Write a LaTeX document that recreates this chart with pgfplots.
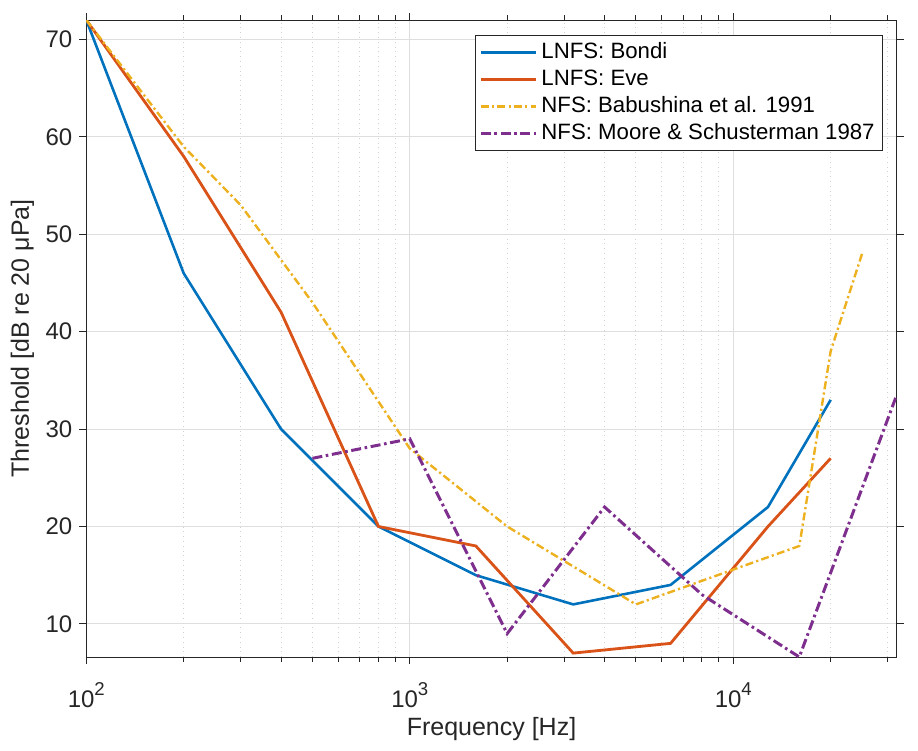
\documentclass[border=0pt]{standalone}
\usepackage{fontspec}
\setmainfont{Liberation Sans}
\usepackage{pgfplots}
\pgfplotsset{compat=1.18}
\definecolor{mblue}{rgb}{0,0.447,0.741}
\definecolor{morange}{rgb}{0.851,0.325,0.098}
\definecolor{myellow}{rgb}{0.929,0.694,0.125}
\definecolor{mpurple}{rgb}{0.494,0.184,0.556}
\definecolor{axgray}{rgb}{0.15,0.15,0.15}
\newcommand{\tsup}[1]{\raisebox{6pt}{\fontsize{9.3}{9}\selectfont #1}}
\begin{document}
\begin{tikzpicture}
\useasboundingbox (-43.15pt,-47pt) rectangle (415.85pt,328.5pt);
\begin{axis}[
  scale only axis, width=405.2pt, height=318.5pt,
  xmode=log, log basis x=10,
  xmin=100, xmax=32000, ymin=6.6, ymax=72,
  xtick={100,1000,10000},
  xticklabels={10\tsup{2},10\tsup{3},10\tsup{4}},
  minor xtick={200,300,400,500,600,700,800,900,2000,3000,4000,5000,6000,7000,8000,9000,20000,30000},
  ytick={10,20,30,40,50,60,70},
  xmajorgrids, xminorgrids, ymajorgrids,
  major grid style={color=black!13, line width=0.5pt},
  minor grid style={color=black!18, dotted, line width=0.5pt},
  axis line style={axgray, line width=0.5pt},
  every tick/.style={axgray, line width=0.5pt},
  tick align=outside, xtick pos=both, ytick pos=both,
  xticklabel pos=lower, yticklabel pos=left,
  major tick length=3.5pt, minor tick length=2.5pt,
  /pgf/number format/assume math mode=true,
  ticklabel style={font=\fontsize{12}{14}\selectfont, text=axgray},
  xticklabel style={anchor=base, yshift=-21.5pt},
  xlabel={Frequency [Hz]}, ylabel={Threshold [dB re 20 μPa]},
  label style={font=\fontsize{12.5}{14}\selectfont, text=axgray},
  xlabel style={at={(axis description cs:0.5,-0.1225)}, anchor=base},
  ylabel style={at={(axis description cs:-0.0787,0.5)}, anchor=center},
  legend cell align=left,
  legend image code/.code={\draw[#1] (0pt,0pt) -- (27.8pt,0pt);},
  legend style={at={(1,1)}, anchor=north east, xshift=-7pt, yshift=-7.5pt,
    draw=axgray, line width=0.5pt, fill=white,
    font=\fontsize{11.1}{13}\selectfont, text=black,
    inner xsep=2pt, inner ysep=1.85pt, row sep=0pt,
    nodes={inner xsep=1.8pt, inner ysep=1.2pt, text height=8.5pt, text depth=2.55pt}},
]
\addplot[mblue, line width=1.3pt] coordinates {
 (100,72) (200,46) (400,30) (800,20) (1600,15) (3200,12) (6400,14) (12800,22) (20000,33)};
\addlegendentry{LNFS: Bondi}
\addplot[morange, line width=1.4pt] coordinates {
 (100,72) (200,58) (400,42) (800,20) (1600,18) (3200,7) (6400,8) (12800,20) (20000,27)};
\addlegendentry{LNFS: Eve}
\addplot[myellow, line width=1.2pt, dash pattern=on 4pt off 1.6pt on 1.1pt off 1.6pt] coordinates {
 (100,72) (200,59) (300,53) (500,43) (1000,28) (2000,20) (5000,12) (16000,18) (20000,38) (25000,48)};
\addlegendentry{NFS: Babushina et al. 1991}
\addplot[mpurple, line width=1.5pt, dash pattern=on 5pt off 1.8pt on 1.3pt off 1.8pt] coordinates {
 (500,27) (1000,29) (2000,9) (4000,22) (8000,13) (16000,6.6) (32000,33.5)};
\addlegendentry{NFS: Moore \& Schusterman 1987}
\end{axis}
\end{tikzpicture}
\end{document}
